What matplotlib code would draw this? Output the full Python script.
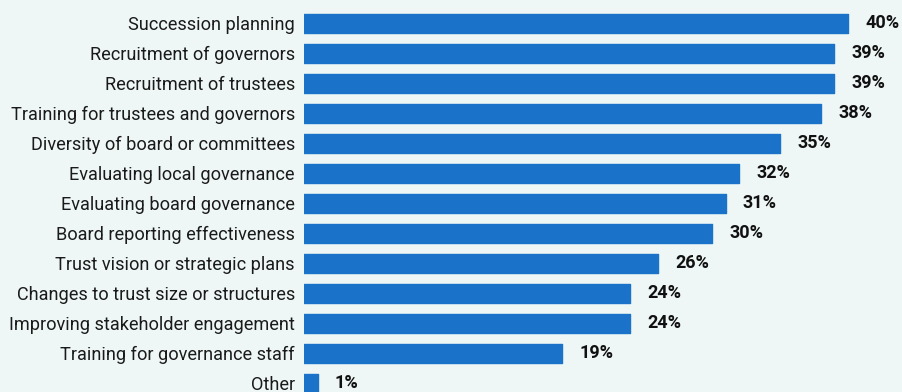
import matplotlib
matplotlib.use("Agg")
import matplotlib.pyplot as plt

categories = [
    "Succession planning",
    "Recruitment of governors",
    "Recruitment of trustees",
    "Training for trustees and governors",
    "Diversity of board or committees",
    "Evaluating local governance",
    "Evaluating board governance",
    "Board reporting effectiveness",
    "Trust vision or strategic plans",
    "Changes to trust size or structures",
    "Improving stakeholder engagement",
    "Training for governance staff",
    "Other",
]
values = [40, 39, 39, 38, 35, 32, 31, 30, 26, 24, 24, 19, 1]
value_labels = [f"{v}%" for v in values]

BG = "#eef7f6"
BAR = "#1a73c9"

plt.rcParams["font.family"] = ["Roboto", "DejaVu Sans"]

W, H = 902, 392
fig = plt.figure(figsize=(W / 100, H / 100), dpi=100)
fig.patch.set_facecolor(BG)
ax = fig.add_axes([304 / W, 0, 1 - 304 / W, 1])
ax.set_facecolor(BG)

pos = list(range(len(categories)))
ax.barh(pos, values, height=0.63, color=BAR, edgecolor=BAR,
        linewidth=1.0, joinstyle="round")

for p, v, lab in zip(pos, values, value_labels):
    ax.annotate(lab, (v, p), xytext=(12.5, 0), textcoords="offset points",
                va="center", ha="left", fontsize=13, fontweight="bold",
                color="#111111")

top = -0.78
ax.set_xlim(0, (W - 304) / 13.6)
ax.set_ylim(top + H / 30, top)
ax.set_yticks(pos)
ax.set_yticklabels(categories, fontsize=13.1, color="#1a1a1a")
ax.tick_params(axis="y", length=0, pad=6.5)
ax.set_xticks([])
for s in ax.spines.values():
    s.set_visible(False)

fig.savefig("out.png", dpi=100, facecolor=BG)
